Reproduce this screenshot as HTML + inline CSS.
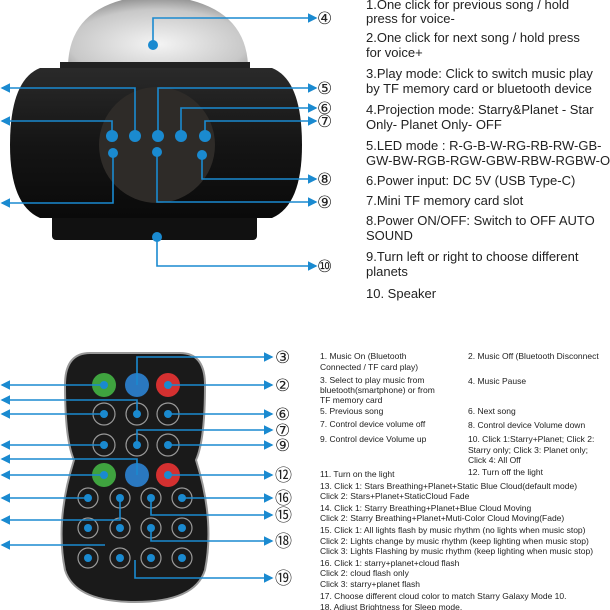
<html><head><style>body{margin:0;background:#fff;}svg{display:block}</style></head><body>
<svg width="610" height="610" viewBox="0 0 610 610" xmlns="http://www.w3.org/2000/svg" font-family="Liberation Sans, sans-serif">
<defs>
<radialGradient id="dome" cx="50%" cy="70%" r="70%"><stop offset="0" stop-color="#f4f4f4"/><stop offset="0.7" stop-color="#c8c8c8"/><stop offset="1" stop-color="#888"/></radialGradient>
<linearGradient id="body" x1="0" y1="0" x2="0" y2="1"><stop offset="0" stop-color="#2a2a2a"/><stop offset="0.5" stop-color="#151515"/><stop offset="1" stop-color="#0a0a0a"/></linearGradient>
<marker id="a" markerWidth="6" markerHeight="6" refX="5" refY="3" orient="auto"><path d="M0,0L6,3L0,6z" fill="#1a8ad0"/></marker>
</defs>
<!-- top device -->
<path d="M68,65 Q70,0 155,-5 Q245,0 248,65 Z" fill="url(#dome)"/>
<rect x="60" y="62" width="190" height="8" fill="#222"/>
<rect x="52" y="210" width="205" height="30" rx="4" fill="#111"/>
<path d="M40,68 H272 Q302,80 302,145 Q302,205 272,218 H40 Q10,205 10,145 Q10,80 40,68Z" fill="url(#body)"/>
<circle cx="157" cy="145" r="58" fill="#2e2b28"/>
<g fill="#1a8ad0">
<circle cx="112" cy="136" r="6"/><circle cx="135" cy="136" r="6"/><circle cx="158" cy="136" r="6"/><circle cx="181" cy="136" r="6"/><circle cx="205" cy="136" r="6"/>
<circle cx="113" cy="153" r="5"/><circle cx="157" cy="152" r="5"/><circle cx="202" cy="155" r="5"/><circle cx="153" cy="45" r="5"/><circle cx="157" cy="237" r="5"/>
</g>
<g stroke="#1a8ad0" stroke-width="1.6" fill="none" marker-end="url(#a)">
<path d="M153,45V18H316"/><path d="M158,136V88H316"/><path d="M181,136V108H316"/><path d="M205,136V121H316"/>
<path d="M202,155V179H316"/><path d="M157,152V202H316"/><path d="M157,237V266H316"/>
<path d="M135,136V88H2"/><path d="M112,136V121H2"/><path d="M113,153V203H2"/>
</g>
<g font-size="17" fill="#222">
<text x="317" y="24">④</text><text x="317" y="94">⑤</text><text x="317" y="114">⑥</text><text x="317" y="127">⑦</text><text x="317" y="185">⑧</text><text x="317" y="208">⑨</text><text x="317" y="272">⑩</text>
</g>
<g font-size="13" fill="#222">
<text x="366" y="9">1.One click for previous song / hold</text>
<text x="366" y="23">press for voice-</text>
<text x="366" y="42">2.One click for next song / hold press</text>
<text x="366" y="57">for voice+</text>
<text x="366" y="78">3.Play mode: Click to switch music play</text>
<text x="366" y="93">by TF memory card or bluetooth device</text>
<text x="366" y="114">4.Projection mode: Starry&amp;Planet - Star</text>
<text x="366" y="129">Only- Planet Only- OFF</text>
<text x="366" y="150">5.LED mode : R-G-B-W-RG-RB-RW-GB-</text>
<text x="366" y="165">GW-BW-RGB-RGW-GBW-RBW-RGBW-OFF</text>
<text x="366" y="185">6.Power input: DC 5V (USB Type-C)</text>
<text x="366" y="205">7.Mini TF memory card slot</text>
<text x="366" y="225">8.Power ON/OFF: Switch to OFF AUTO</text>
<text x="366" y="240">SOUND</text>
<text x="366" y="261">9.Turn left or right to choose different</text>
<text x="366" y="276">planets</text>
<text x="366" y="298">10. Speaker</text>
</g>
<!-- remote -->
<path d="M90,353 H180 Q205,353 205,385 Q205,440 196,460 Q215,520 205,570 Q195,602 135,602 Q75,602 65,570 Q55,520 74,460 Q65,440 65,385 Q65,353 90,353Z" fill="#1a1a1a" stroke="#999" stroke-width="2"/>
<g stroke="#999" stroke-width="1.2" fill="#1a1a1a">
<circle cx="104" cy="414" r="11"/><circle cx="137" cy="414" r="11"/><circle cx="168" cy="414" r="11"/>
<circle cx="104" cy="445" r="11"/><circle cx="137" cy="445" r="11"/><circle cx="168" cy="445" r="11"/>
<circle cx="88" cy="498" r="10"/><circle cx="120" cy="498" r="10"/><circle cx="151" cy="498" r="10"/><circle cx="182" cy="498" r="10"/>
<circle cx="88" cy="528" r="10"/><circle cx="120" cy="528" r="10"/><circle cx="151" cy="528" r="10"/><circle cx="182" cy="528" r="10"/>
<circle cx="88" cy="558" r="10"/><circle cx="120" cy="558" r="10"/><circle cx="151" cy="558" r="10"/><circle cx="182" cy="558" r="10"/>
</g>
<circle cx="104" cy="385" r="12" fill="#3fa33f"/><circle cx="137" cy="385" r="12" fill="#2a78c0"/><circle cx="168" cy="385" r="12" fill="#d43030"/>
<circle cx="104" cy="475" r="12" fill="#3fa33f"/><circle cx="137" cy="475" r="12" fill="#2a78c0"/><circle cx="168" cy="475" r="12" fill="#d43030"/>
<g fill="#1a8ad0">
<circle cx="104" cy="385" r="4"/><circle cx="168" cy="385" r="4"/><circle cx="137" cy="414" r="4"/><circle cx="104" cy="414" r="4"/><circle cx="168" cy="414" r="4"/>
<circle cx="104" cy="445" r="4"/><circle cx="137" cy="445" r="4"/><circle cx="168" cy="445" r="4"/><circle cx="104" cy="475" r="4"/><circle cx="168" cy="475" r="4"/>
<circle cx="88" cy="498" r="4"/><circle cx="120" cy="498" r="4"/><circle cx="151" cy="498" r="4"/><circle cx="182" cy="498" r="4"/>
<circle cx="88" cy="528" r="4"/><circle cx="120" cy="528" r="4"/><circle cx="151" cy="528" r="4"/><circle cx="182" cy="528" r="4"/>
<circle cx="88" cy="558" r="4"/><circle cx="120" cy="558" r="4"/><circle cx="151" cy="558" r="4"/><circle cx="182" cy="558" r="4"/>
</g>
<g stroke="#1a8ad0" stroke-width="1.6" fill="none" marker-end="url(#a)">
<path d="M137,385V357H272"/><path d="M168,385H272"/><path d="M168,414H272"/><path d="M137,445V430H272"/><path d="M168,445H272"/>
<path d="M168,475H272"/><path d="M182,498H272"/><path d="M151,498V515H272"/><path d="M151,528V541H272"/><path d="M135,560V578H272"/>
<path d="M104,385H2"/><path d="M137,414V400H2"/><path d="M104,414H2"/><path d="M104,445H2"/><path d="M137,475V459H2"/><path d="M104,475H2"/>
<path d="M88,498H2"/><path d="M120,498V520H2"/><path d="M105,545H2"/>
</g>
<g font-size="17" fill="#222">
<text x="275" y="363">③</text><text x="275" y="391">②</text><text x="275" y="420">⑥</text><text x="275" y="436">⑦</text><text x="275" y="451">⑨</text>
<text x="275" y="481">⑫</text><text x="275" y="504">⑯</text><text x="275" y="521">⑮</text><text x="275" y="547">⑱</text><text x="275" y="584">⑲</text>
</g>
<g font-size="8.5" fill="#222">
<text x="320" y="359">1. Music On (Bluetooth</text><text x="320" y="370">Connected / TF card play)</text>
<text x="320" y="383">3. Select to play music from</text><text x="320" y="393">bluetooth(smartphone) or from</text><text x="320" y="403">TF memory card</text>
<text x="320" y="414">5. Previous song</text><text x="320" y="427">7. Control device volume off</text><text x="320" y="442">9. Control device Volume up</text>
<text x="468" y="359">2. Music Off (Bluetooth Disconnect</text><text x="468" y="384">4. Music Pause</text>
<text x="468" y="414">6. Next song</text><text x="468" y="428">8. Control device Volume down</text>
<text x="468" y="442">10. Click 1:Starry+Planet; Click 2:</text><text x="468" y="453">Starry only; Click 3: Planet only;</text><text x="468" y="463">Click 4: All Off</text>
<text x="320" y="477">11. Turn on the light</text><text x="468" y="475">12. Turn off the light</text>
<text x="320" y="489">13. Click 1: Stars Breathing+Planet+Static Blue Cloud(default mode)</text><text x="320" y="499">Click 2: Stars+Planet+StaticCloud Fade</text>
<text x="320" y="511">14. Click 1: Starry Breathing+Planet+Blue Cloud Moving</text><text x="320" y="521">Click 2: Starry Breathing+Planet+Muti-Color Cloud Moving(Fade)</text>
<text x="320" y="533">15. Click 1: All lights flash by music rhythm (no lights when music stop)</text><text x="320" y="544">Click 2: Lights change by music rhythm (keep lighting when music stop)</text><text x="320" y="554">Click 3: Lights Flashing by music rhythm (keep lighting when music stop)</text>
<text x="320" y="566">16. Click 1: starry+planet+cloud flash</text><text x="320" y="576">Click 2: cloud flash only</text><text x="320" y="587">Click 3: starry+planet flash</text>
<text x="320" y="599">17. Choose different cloud color to match Starry Galaxy Mode 10.</text><text x="320" y="610">18. Adjust Brightness for Sleep mode.</text>
</g>
</svg>
</body></html>
